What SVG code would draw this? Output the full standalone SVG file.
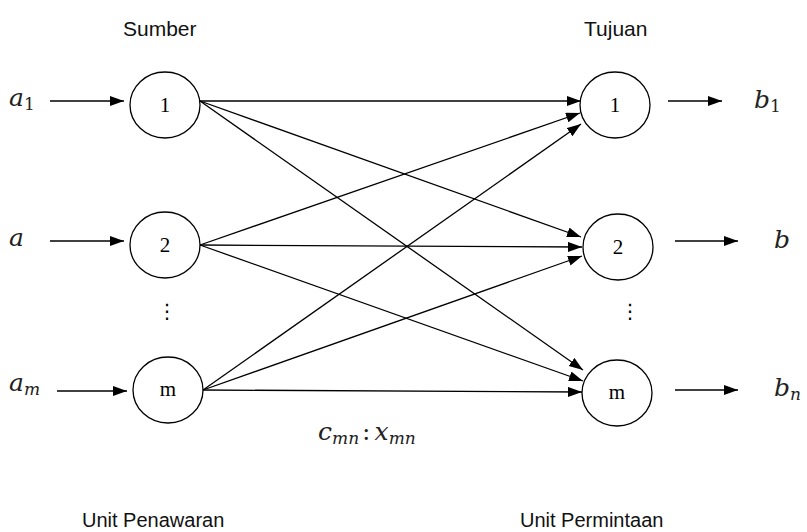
<svg xmlns="http://www.w3.org/2000/svg" width="807" height="532" viewBox="0 0 807 532">
<defs>
<marker id="arr" markerUnits="userSpaceOnUse" markerWidth="15" markerHeight="11" refX="14" refY="5" orient="auto">
<path d="M0,0 L14,5 L0,10 z" fill="#000"/>
</marker>
<style>
.node ellipse{fill:#fff;stroke:#000;stroke-width:1.3}
.num{font-family:"Liberation Serif",serif;font-size:21px;text-anchor:middle;fill:#000}
.lbl{font-family:"Liberation Sans",Arial,sans-serif;fill:#111}
.math{font-family:"DejaVu Serif","Liberation Serif",serif;font-style:italic;font-size:25px;fill:#222}
.sub{font-size:17px}
.up{font-style:normal}
.edge line{stroke:#000;stroke-width:1.3;marker-end:url(#arr)}
.dots{font-family:"DejaVu Sans",sans-serif;font-size:20px;text-anchor:middle;fill:#000}
</style>
</defs>
<rect width="807" height="532" fill="#fff"/>

<text class="lbl" x="123" y="36" font-size="21">Sumber</text>
<text class="lbl" x="584" y="36" font-size="21">Tujuan</text>
<text class="lbl" x="82" y="527" font-size="20">Unit Penawaran</text>
<text class="lbl" x="520" y="527" font-size="20">Unit Permintaan</text>

<g id="connectors" class="edge">
<line x1="50" y1="101" x2="124" y2="101"/>
<line x1="50" y1="241" x2="124" y2="241"/>
<line x1="57" y1="391" x2="127" y2="391"/>
<line x1="668" y1="101" x2="722" y2="101"/>
<line x1="675" y1="241" x2="738" y2="241"/>
<line x1="675" y1="390" x2="738" y2="390"/>
<line x1="200" y1="101" x2="581" y2="101"/>
<line x1="200" y1="101" x2="581" y2="237"/>
<line x1="200" y1="101" x2="583" y2="370"/>
<line x1="200" y1="245" x2="580" y2="113"/>
<line x1="200" y1="245" x2="582" y2="247"/>
<line x1="200" y1="245" x2="583" y2="381"/>
<line x1="203" y1="390" x2="581" y2="124"/>
<line x1="203" y1="390" x2="582" y2="256"/>
<line x1="203" y1="390" x2="582" y2="392"/>
</g>

<g id="src1" class="node"><ellipse cx="165" cy="105" rx="35" ry="33"/><text class="num" x="165" y="112">1</text></g>
<g id="src2" class="node"><ellipse cx="165" cy="245" rx="35" ry="33"/><text class="num" x="165" y="252">2</text></g>
<g id="srcm" class="node"><ellipse cx="168" cy="390" rx="35" ry="33"/><text class="num" x="168" y="396">m</text></g>
<g id="dst1" class="node"><ellipse cx="615" cy="105" rx="35" ry="33"/><text class="num" x="615" y="112">1</text></g>
<g id="dst2" class="node"><ellipse cx="618" cy="247" rx="35" ry="33"/><text class="num" x="618" y="254">2</text></g>
<g id="dstm" class="node"><ellipse cx="617" cy="393" rx="35" ry="33"/><text class="num" x="617" y="399">m</text></g>

<text class="dots" x="167" y="318">⋮</text>
<text class="dots" x="630" y="318">⋮</text>

<text class="math" x="9" y="106">a<tspan class="sub up" dy="4">1</tspan></text>
<text class="math" x="9" y="246">a</text>
<text class="math" x="9" y="391">a<tspan class="sub" dy="4">m</tspan></text>
<text class="math" x="754" y="108">b<tspan class="sub up" dy="4">1</tspan></text>
<text class="math" x="774" y="248">b</text>
<text class="math" x="774" y="396">b<tspan class="sub" dy="4">n</tspan></text>
<text class="math" x="318" y="440">c<tspan class="sub" dy="4">mn</tspan><tspan dy="-4" dx="3" class="up">:</tspan><tspan dx="4">x</tspan><tspan class="sub" dy="4">mn</tspan></text>
</svg>
